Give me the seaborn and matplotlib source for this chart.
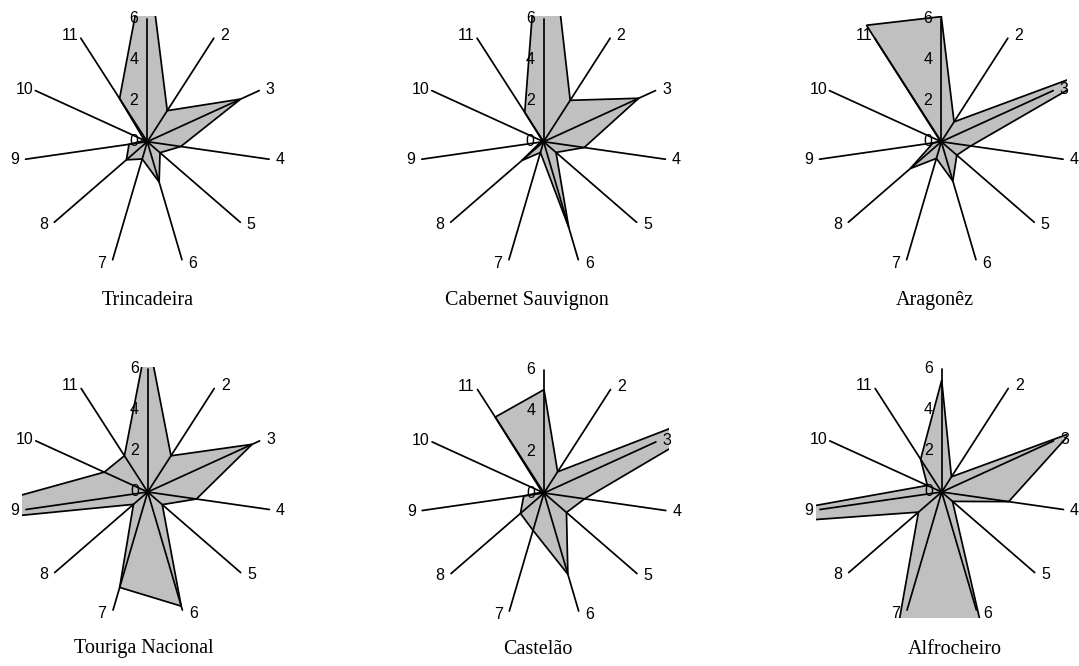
import numpy as np
import matplotlib

matplotlib.use("Agg")

import matplotlib.pyplot as plt
import seaborn as sns
from matplotlib.patches import Rectangle

# spoke categories 1..11 (label of spoke 1 is hidden in the original)
SPOKES = ["", "2", "3", "4", "5", "6", "7", "8", "9", "10", "11"]
RADIAL_TICKS = [0, 2, 4, 6]

VARIETIES = ["Trincadeira", "Cabernet Sauvignon", "Aragonêz",
             "Touriga Nacional", "Castelão", "Alfrocheiro"]

trincadeira = [9.3, 1.8, 5.0, 1.65, 0.82, 2.05, 0.88, 1.35, 0.9, 0.15, 2.5]
cabernet = [13.4, 2.4, 5.1, 2.0, 0.8, 4.35, 0.55, 1.4, 0.15, 0.05, 1.7]
aragonez = [6.1, 1.15, 9.4, 1.45, 1.0, 2.0, 0.85, 2.0, 0.4, 0.05, 6.75]
touriga = [7.6, 2.1, 5.6, 2.4, 0.94, 5.8, 4.85, 0.92, 11.8, 2.33, 2.1]
castelao = [5.04, 1.23, 12.0, 2.0, 1.45, 4.13, 1.9, 1.52, 1.0, 0.1, 4.4]
alfrocheiro = [5.45, 0.88, 6.9, 3.3, 0.7, 7.0, 8.6, 1.5, 12.7, 0.77, 1.9]

SERIES = [trincadeira, cabernet, aragonez, touriga, castelao, alfrocheiro]

# layout (pixels on a 1079 x 666 canvas)
W, H = 1079, 666
CENTERS = [(147.3, 141.7), (543.6, 141.7), (941.3, 141.7),
           (147.7, 492.0), (544.0, 493.0), (941.7, 492.0)]
TITLE_POS = [(148, 300), (527, 300), (935, 300),
             (144, 649), (538, 650), (955, 650)]
HALF = 125.5          # half side of the clipping square, px
RMAX = 6.12           # radial value at the square edge
PT = 72 / 100         # points per pixel

sns.set_theme(style="white")
plt.rcParams["font.family"] = ["Liberation Sans", "DejaVu Sans"]
plt.rcParams["text.color"] = "black"

fig = plt.figure(figsize=(W / 100, H / 100), dpi=100)

angles = np.linspace(0, 2 * np.pi, len(SPOKES), endpoint=False)

for values, (cx, cy), name, (tx, ty) in zip(SERIES, CENTERS, VARIETIES, TITLE_POS):
    ax = fig.add_axes([(cx - HALF) / W, 1 - (cy + HALF) / H, 2 * HALF / W, 2 * HALF / H],
                      projection="polar")
    ax.set_theta_offset(np.pi / 2)
    ax.set_theta_direction(-1)
    ax.set_ylim(0, RMAX)
    ax.grid(False)
    ax.set_xticks([])
    ax.set_yticks([])
    ax.spines["polar"].set_visible(False)
    ax.patch.set_alpha(0)

    theta = np.append(angles, angles[0])
    r = np.append(values, values[0])
    polys = ax.fill(theta, r, facecolor="#C0C0C0", edgecolor="black", linewidth=1.25, zorder=2)
    for p in polys:
        p.set_clip_path(Rectangle((0, 0), 1, 1, transform=ax.transAxes))

    for a in angles:
        ax.plot([a, a], [0, 6], color="black", linewidth=1.25, zorder=3)

    # category labels just outside the spoke ends
    for a, lab in zip(angles, SPOKES):
        dx = 11 * np.sign(round(np.sin(a), 6)) * PT
        dy = 3.5 * np.cos(a) * PT
        ax.annotate(lab, xy=(a, 6), xytext=(dx, dy), textcoords="offset points",
                    ha="center", va="center", fontsize=11.5, annotation_clip=False)

    for t in RADIAL_TICKS:
        ax.annotate(str(t), xy=(0, t), xytext=(-9.6, 0), textcoords="offset points",
                    ha="center", va="center", fontsize=11.5, zorder=4)

    fig.text(tx / W, 1 - ty / H, name, ha="center", va="center",
             fontsize=14.5, family=["Liberation Serif", "DejaVu Serif"])

fig.savefig("out.png", dpi=100)
